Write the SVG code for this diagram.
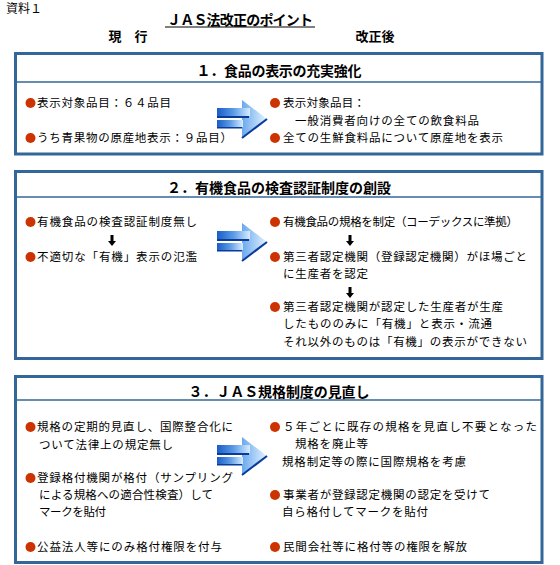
<svg xmlns="http://www.w3.org/2000/svg" width="560" height="565" viewBox="0 0 560 565">
<style>
.box{fill:#fff;stroke:#336699;stroke-width:3}
.sep{stroke:#336699;stroke-width:1.5}
.t{font-family:"Noto Sans CJK JP","Noto Sans CJK SC",sans-serif;font-size:11.5px;fill:#000}
.h{font-family:"Noto Sans CJK JP","Noto Sans CJK SC",sans-serif;font-size:14px;font-weight:bold;fill:#000;text-anchor:middle}
.b{fill:#cc3300}
</style>
<defs>
<linearGradient id="gb" x1="0" y1="0" x2="1" y2="0">
<stop offset="0" stop-color="#1a5cc8"/>
<stop offset="0.5" stop-color="#5b9be6"/>
<stop offset="1" stop-color="#d6ecff"/>
</linearGradient>
<linearGradient id="gh" x1="0" y1="0" x2="1" y2="0">
<stop offset="0" stop-color="#6aa8ee"/>
<stop offset="1" stop-color="#e4f3ff"/>
</linearGradient>
<g id="bigArrow">
<polygon points="242,0 267,19 242,38" fill="url(#gh)"/>
<rect x="217" y="8" width="33" height="8" fill="url(#gb)"/>
<rect x="217" y="16" width="32" height="2" fill="#0a3a9a"/>
<rect x="217" y="20" width="26" height="7" fill="url(#gb)"/>
<rect x="217" y="27" width="25" height="1.5" fill="#0a3a9a"/>
<line x1="267" y1="19" x2="242" y2="38" stroke="#0a3a9a" stroke-width="2"/>
</g>
<polygon id="down" points="-1.5,0 1.5,0 1.5,6 4,6 0,11 -4,6 -1.5,6" fill="#000"/>
</defs>

<text x="6" y="13" class="t" style="font-size:12px">資料１</text>
<g id="title">
<text x="240" y="25" class="h" textLength="146">ＪＡＳ法改正のポイント</text>
<line x1="165" y1="27" x2="315" y2="27" stroke="#000" stroke-width="1"/>
</g>
<text x="128" y="41" class="h" style="font-size:13px">現　行</text>
<text x="375" y="41" class="h" style="font-size:13px">改正後</text>

<g id="box1">
<rect class="box" x="15.5" y="53.5" width="526.5" height="100.5"/>
<line class="sep" x1="15.5" y1="82" x2="542" y2="82"/>
<text x="279" y="76" class="h" textLength="165">１．食品の表示の充実強化</text>
<circle class="b" cx="30.5" cy="103" r="5"/>
<text x="37" y="107" class="t" textLength="134">表示対象品目：６４品目</text>
<circle class="b" cx="30.5" cy="138" r="5"/>
<text x="37" y="142" class="t" textLength="195">うち青果物の原産地表示：９品目）</text>
<circle class="b" cx="275" cy="103" r="5"/>
<text x="283" y="107" class="t" textLength="82">表示対象品目：</text>
<text x="295" y="125" class="t" textLength="184">一般消費者向けの全ての飲食料品</text>
<circle class="b" cx="275" cy="138" r="5"/>
<text x="283" y="142" class="t" textLength="220">全ての生鮮食料品について原産地を表示</text>
</g>

<g id="box2">
<rect class="box" x="15.5" y="171.5" width="526.5" height="187"/>
<line class="sep" x1="15.5" y1="197" x2="542" y2="197"/>
<text x="279" y="193" class="h" textLength="224">２．有機食品の検査認証制度の創設</text>
<circle class="b" cx="30.5" cy="222" r="5"/>
<text x="37" y="226" class="t" textLength="160">有機食品の検査認証制度無し</text>
<circle class="b" cx="30.5" cy="257" r="5"/>
<text x="37" y="261" class="t" textLength="160">不適切な「有機」表示の氾濫</text>
<circle class="b" cx="275" cy="222" r="5"/>
<text x="283" y="226" class="t" textLength="235">有機食品の規格を制定（コーデックスに準拠）</text>
<circle class="b" cx="275" cy="257" r="5"/>
<text x="283" y="261" class="t" textLength="244">第三者認定機関（登録認定機関）がほ場ごと</text>
<text x="283" y="278" class="t" textLength="85">に生産者を認定</text>
<circle class="b" cx="275" cy="307" r="5"/>
<text x="283" y="311" class="t" textLength="220">第三者認定機関が認定した生産者が生産</text>
<text x="283" y="328" class="t" textLength="209">したもののみに「有機」と表示・流通</text>
<text x="283" y="346" class="t" textLength="244">それ以外のものは「有機」の表示ができない</text>
</g>

<g id="box3">
<rect class="box" x="15.5" y="376.5" width="526.5" height="186"/>
<line class="sep" x1="15.5" y1="400" x2="542" y2="400"/>
<text x="279" y="397" class="h" textLength="181">３．ＪＡＳ規格制度の見直し</text>
<circle class="b" cx="30.5" cy="427" r="5"/>
<text x="37" y="431" class="t" textLength="196">規格の定期的見直し、国際整合化に</text>
<text x="39" y="449" class="t" textLength="134">ついて法律上の規定無し</text>
<circle class="b" cx="30.5" cy="478" r="5"/>
<text x="37" y="482" class="t" textLength="196">登録格付機関が格付（サンプリング</text>
<text x="39" y="499" class="t" textLength="174">による規格への適合性検査）して</text>
<text x="39" y="516" class="t" textLength="67">マークを貼付</text>
<circle class="b" cx="30.5" cy="547" r="5"/>
<text x="37" y="551" class="t" textLength="185">公益法人等にのみ格付権限を付与</text>
<circle class="b" cx="275" cy="427" r="5"/>
<text x="283" y="431" class="t" textLength="254">５年ごとに既存の規格を見直し不要となった</text>
<text x="295" y="448" class="t" textLength="73">規格を廃止等</text>
<text x="282" y="466" class="t" textLength="184">規格制定等の際に国際規格を考慮</text>
<circle class="b" cx="275" cy="495" r="5"/>
<text x="283" y="499" class="t" textLength="207">事業者が登録認定機関の認定を受けて</text>
<text x="282" y="516" class="t" textLength="146">自ら格付してマークを貼付</text>
<circle class="b" cx="275" cy="547" r="5"/>
<text x="283" y="551" class="t" textLength="184">民間会社等に格付等の権限を解放</text>
</g>

<g id="connectors">
<use href="#bigArrow" transform="translate(0,100)"/>
<use href="#bigArrow" transform="translate(0,223)"/>
<use href="#bigArrow" transform="translate(0,437)"/>
<use href="#down" transform="translate(112,235)"/>
<use href="#down" transform="translate(350,235)"/>
<use href="#down" transform="translate(350,287)"/>
</g>
</svg>
